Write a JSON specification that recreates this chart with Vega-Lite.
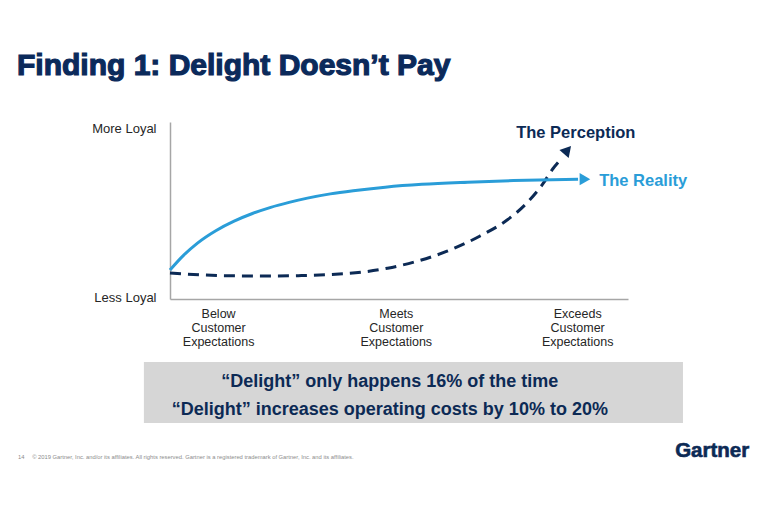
{
  "$schema": "https://vega.github.io/schema/vega-lite/v6.json",
  "autosize": "none",
  "width": 458,
  "height": 177,
  "padding": {"left": 170, "top": 122, "right": 140, "bottom": 213},
  "background": "white",
  "config": {"view": {"stroke": null}, "font": "Liberation Sans"},
  "layer": [
    {
      "data": {"values": [{"x0": -5.7, "x1": 112.0, "y0": -35.6, "y1": -70.1}]},
      "mark": {"type": "rect", "color": "#d6d6d6"},
      "encoding": {
        "x": {
          "field": "x0", "type": "quantitative",
          "scale": {"domain": [0, 100], "nice": false, "zero": false},
          "axis": {
            "title": null, "values": [10.5, 49.3, 88.9],
            "labelExpr": "datum.value < 30 ? ['Below','Customer','Expectations'] : datum.value < 70 ? ['Meets','Customer','Expectations'] : ['Exceeds','Customer','Expectations']",
            "ticks": false, "grid": false, "domainColor": "#a6a6a6", "domainWidth": 1.5,
            "labelFont": "Liberation Sans", "labelFontSize": 12.5, "labelColor": "#262626",
            "labelLineHeight": 14, "labelPadding": 8, "labelAlign": "center", "labelBaseline": "top",
            "labelFlush": false, "labelOverlap": false
          }
        },
        "x2": {"field": "x1"},
        "y": {
          "field": "y0", "type": "quantitative",
          "scale": {"domain": [0, 100], "nice": false, "zero": false},
          "axis": {
            "title": null, "values": [1.1, 96.6],
            "labelExpr": "datum.value > 50 ? 'More Loyal' : 'Less Loyal'",
            "ticks": false, "grid": false, "domainColor": "#a6a6a6", "domainWidth": 1.5,
            "labelFont": "Liberation Sans", "labelFontSize": 13, "labelColor": "#262626",
            "labelPadding": 14, "labelBaseline": "middle", "labelFlush": false, "labelOverlap": false
          }
        },
        "y2": {"field": "y1"}
      }
    },
    {
      "data": {"values": [{"t": "Finding 1: Delight Doesn’t Pay", "x": -33.4, "y": 126.6}]},
      "mark": {"type": "text", "font": "Liberation Sans", "fontSize": 30, "fontWeight": "bold", "color": "#0b2a5b", "stroke": "#0b2a5b", "strokeWidth": 1.2, "align": "left", "baseline": "alphabetic"},
      "encoding": {"x": {"field": "x", "type": "quantitative"}, "y": {"field": "y", "type": "quantitative"}, "text": {"field": "t"}}
    },
    {
      "data": {"values": [
        {"i": 0, "x": 0, "y": 14.7}, {"i": 1, "x": 7, "y": 13.6}, {"i": 2, "x": 14, "y": 13.1},
        {"i": 3, "x": 21, "y": 13.0}, {"i": 4, "x": 28, "y": 13.2}, {"i": 5, "x": 35, "y": 13.8},
        {"i": 6, "x": 42, "y": 15.2}, {"i": 7, "x": 47.5, "y": 17.4}, {"i": 8, "x": 53.5, "y": 21.0},
        {"i": 9, "x": 60.5, "y": 27.0}, {"i": 10, "x": 67.7, "y": 35.6}, {"i": 11, "x": 73.6, "y": 44.6},
        {"i": 12, "x": 77.9, "y": 54.2}, {"i": 13, "x": 81.4, "y": 65.0}, {"i": 14, "x": 83.6, "y": 73.6},
        {"i": 15, "x": 85.2, "y": 78.5}
      ]},
      "mark": {"type": "line", "color": "#0c2a55", "strokeWidth": 3, "strokeDash": [11, 7], "interpolate": "monotone"},
      "encoding": {
        "x": {"field": "x", "type": "quantitative"},
        "y": {"field": "y", "type": "quantitative"},
        "order": {"field": "i"}
      }
    },
    {
      "data": {"values": [
        {"i": 0, "x": 0, "y": 16.4}, {"i": 1, "x": 3, "y": 24.8}, {"i": 2, "x": 6, "y": 31.6},
        {"i": 3, "x": 10, "y": 38.6}, {"i": 4, "x": 14, "y": 44.0}, {"i": 5, "x": 18, "y": 48.3},
        {"i": 6, "x": 22, "y": 51.8}, {"i": 7, "x": 26, "y": 54.6}, {"i": 8, "x": 30, "y": 57.0},
        {"i": 9, "x": 35, "y": 59.4}, {"i": 10, "x": 40, "y": 61.2}, {"i": 11, "x": 47, "y": 63.2},
        {"i": 12, "x": 55, "y": 64.8}, {"i": 13, "x": 65, "y": 66.0}, {"i": 14, "x": 75, "y": 66.9},
        {"i": 15, "x": 89.1, "y": 67.7}
      ]},
      "mark": {"type": "line", "color": "#2a9dd8", "strokeWidth": 3, "interpolate": "monotone"},
      "encoding": {
        "x": {"field": "x", "type": "quantitative"},
        "y": {"field": "y", "type": "quantitative"},
        "order": {"field": "i"}
      }
    },
    {
      "data": {"values": [{"x": 90.6, "y": 67.7}]},
      "mark": {"type": "point", "shape": "triangle-right", "filled": true, "opacity": 1, "color": "#2a9dd8", "size": 150},
      "encoding": {"x": {"field": "x", "type": "quantitative"}, "y": {"field": "y", "type": "quantitative"}}
    },
    {
      "data": {"values": [{"x": 86.8, "y": 84.2, "a": 41}]},
      "mark": {"type": "point", "shape": "triangle-up", "filled": true, "opacity": 1, "color": "#0c2a55", "size": 150},
      "encoding": {
        "x": {"field": "x", "type": "quantitative"},
        "y": {"field": "y", "type": "quantitative"},
        "angle": {"field": "a", "type": "quantitative", "scale": null}
      }
    },
    {
      "data": {"values": [{"t": "The Perception", "x": 88.6, "y": 91.0}]},
      "mark": {"type": "text", "font": "Liberation Sans", "fontSize": 16.5, "fontWeight": "bold", "color": "#0c2a55", "align": "center", "baseline": "alphabetic"},
      "encoding": {"x": {"field": "x", "type": "quantitative"}, "y": {"field": "y", "type": "quantitative"}, "text": {"field": "t"}}
    },
    {
      "data": {"values": [{"t": "The Reality", "x": 93.7, "y": 63.8}]},
      "mark": {"type": "text", "font": "Liberation Sans", "fontSize": 16.5, "fontWeight": "bold", "color": "#2a9dd8", "align": "left", "baseline": "alphabetic"},
      "encoding": {"x": {"field": "x", "type": "quantitative"}, "y": {"field": "y", "type": "quantitative"}, "text": {"field": "t"}}
    },
    {
      "data": {"values": [
        {"t": "“Delight” only happens 16% of the time", "x": 48.0, "y": -49.7},
        {"t": "“Delight” increases operating costs by 10% to 20%", "x": 48.0, "y": -65.5}
      ]},
      "mark": {"type": "text", "font": "Liberation Sans", "fontSize": 18, "fontWeight": "bold", "color": "#0c2a55", "align": "center", "baseline": "alphabetic"},
      "encoding": {"x": {"field": "x", "type": "quantitative"}, "y": {"field": "y", "type": "quantitative"}, "text": {"field": "t"}}
    },
    {
      "data": {"values": [
        {"t": "14", "x": -33.2, "y": -90.4},
        {"t": "© 2019 Gartner, Inc. and/or its affiliates. All rights reserved. Gartner is a registered trademark of Gartner, Inc. and its affiliates.", "x": -30.1, "y": -90.4}
      ]},
      "mark": {"type": "text", "font": "Liberation Sans", "fontSize": 5.8, "color": "#8c8c8c", "align": "left", "baseline": "alphabetic"},
      "encoding": {"x": {"field": "x", "type": "quantitative"}, "y": {"field": "y", "type": "quantitative"}, "text": {"field": "t"}}
    },
    {
      "data": {"values": [{"t": "Gartner", "x": 110.3, "y": -89.3}]},
      "mark": {"type": "text", "font": "Liberation Sans", "fontSize": 20.5, "fontWeight": "bold", "color": "#0c2a55", "stroke": "#0c2a55", "strokeWidth": 0.6, "align": "left", "baseline": "alphabetic"},
      "encoding": {"x": {"field": "x", "type": "quantitative"}, "y": {"field": "y", "type": "quantitative"}, "text": {"field": "t"}}
    }
  ]
}
